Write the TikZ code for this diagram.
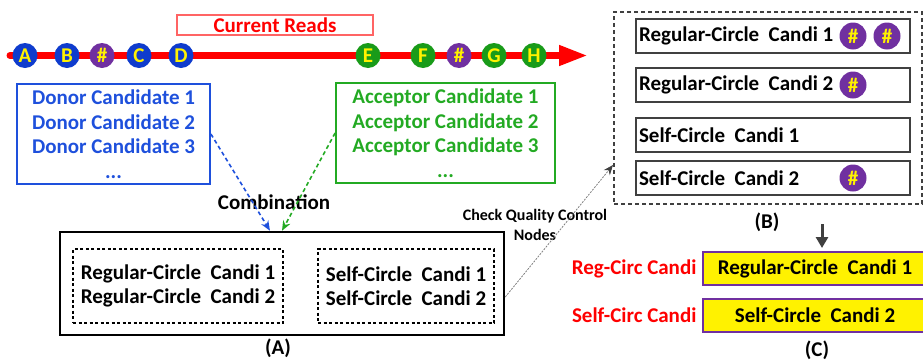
\documentclass[tikz,border=0pt]{standalone}
\usepackage{fontspec}
\setmainfont{Carlito}
\usetikzlibrary{arrows.meta,positioning}

\definecolor{rdblue}{RGB}{15,60,205}
\definecolor{rdgreen}{RGB}{25,155,25}
\definecolor{rdpurple}{RGB}{112,48,160}
\definecolor{txblue}{RGB}{30,80,220}
\definecolor{txgreen}{RGB}{35,170,35}
\definecolor{edgegray}{RGB}{64,64,64}
\definecolor{lightred}{RGB}{255,100,100}

\tikzset{
  read/.style = {circle, fill=#1, text=yellow, inner sep=0pt, minimum size=25pt},
  hashdot/.style = {circle, fill=rdpurple, text=yellow, inner sep=0pt, minimum size=27pt},
  candbox/.style = {draw=edgegray, line width=2pt, minimum height=34pt, text width=268pt, inner xsep=3pt, align=flush left},
  finalbox/.style = {draw=rdpurple, fill=yellow, line width=2pt, minimum width=224pt, minimum height=33pt},
  dashbox/.style = {draw, line width=1.8pt, dash pattern=on 3pt off 2.5pt, minimum height=74pt, align=flush left}
}

\begin{document}
\begin{tikzpicture}[x=1pt, y=-1pt, font=\fontsize{21}{24.5}\selectfont\bfseries]
  \useasboundingbox (0,0) rectangle (923,362);

  % current reads
  \node [draw=lightred, line width=1.2pt, minimum width=196pt, minimum height=20pt, inner sep=0pt, text=red] (reads) at (275,25) {Current Reads};
  \coordinate (rstart) at (10,55.5);
  \coordinate (rend) at (588,55.5);
  \draw [red, line width=7pt, line cap=round, -{Triangle[length=29pt, width=19pt]}] (rstart) -- (rend);
  \foreach \x/\l/\c [count=\i] in {25/A/rdblue, 67/B/rdblue, 102/\#/rdpurple, 139/C/rdblue, 181/D/rdblue,
                                   368/E/rdgreen, 423/F/rdgreen, 459/\#/rdpurple, 494/G/rdgreen, 534/H/rdgreen}
    \node [read=\c] (r\i) at (\x,55.5) {\l};

  % candidates
  \node [draw=txblue, line width=1.8pt, minimum width=193pt, minimum height=100pt, text=txblue, align=center] (donor) at (113.5,134) {Donor Candidate 1\\Donor Candidate 2\\Donor Candidate 3\\...};
  \node [draw=txgreen, line width=1.8pt, minimum width=219pt, minimum height=100pt, text=txgreen, align=center] (acceptor) at (445.5,133) {Acceptor Candidate 1\\Acceptor Candidate 2\\Acceptor Candidate 3\\...};
  \node (comb) at (274,202) {Combination};

  % (A)
  \node [draw, line width=2.5pt, minimum width=444pt, minimum height=103pt] (boxA) at (282,283.5) {};
  \node [dashbox, minimum width=210pt] (regA) at (178,286) {Regular-Circle\ \ Candi 1\\Regular-Circle\ \ Candi 2};
  \node [dashbox, minimum width=176pt] (selfA) at (406,286) {Self-Circle\ \ Candi 1\\Self-Circle\ \ Candi 2};
  \node (labA) at (278,348) {(A)};
  \draw [txblue, line width=1.6pt, dash pattern=on 4pt off 3pt, -{Stealth[length=10pt, width=8pt]}] (donor.east) -- ([xshift=-12pt]boxA.north);
  \draw [txgreen, line width=1.6pt, dash pattern=on 4pt off 3pt, -{Stealth[length=10pt, width=8pt]}] (acceptor.west) -- (boxA.north);

  % (B)
  \node [draw=edgegray, line width=2pt, dash pattern=on 4pt off 3pt, minimum width=308pt, minimum height=192pt] (boxB) at (768,108) {};
  \node [candbox] (b1) at (773,36) {Regular-Circle\ \ Candi 1};
  \node [candbox] (b2) at (773,85) {Regular-Circle\ \ Candi 2};
  \node [candbox] (b3) at (773,135) {Self-Circle\ \ Candi 1};
  \node [candbox] (b4) at (773,178) {Self-Circle\ \ Candi 2};
  \node [hashdot] (h1) at (853,36) {\#};
  \node [hashdot] (h2) at (887,36) {\#};
  \node [hashdot] (h3) at (853,85) {\#};
  \node [hashdot] (h4) at (853,178) {\#};
  \node (labB) at (767,222) {(B)};

  \node [font=\fontsize{16}{20}\selectfont\bfseries, align=center] (check) at (535,225) {Check Quality Control\\Nodes};
  \draw [gray, line width=0.8pt, dash pattern=on 2pt off 1.2pt, -{Stealth[length=10pt, width=8pt, edgegray]}] ([yshift=-13.5pt]boxA.east) -- ([yshift=-57pt]boxB.west);

  % (C)
  \node [finalbox] (c1) at (815,268.5) {Regular-Circle\ \ Candi 1};
  \node [finalbox] (c2) at (815,315) {Self-Circle\ \ Candi 2};
  \node [left=2pt of c1, text=red] (l1) {Reg-Circ Candi};
  \node [left=2pt of c2, text=red] (l2) {Self-Circ Candi};
  \node (labC) at (817,350) {(C)};
  \coordinate (gtop) at (822,224);
  \coordinate (gbot) at (822,248);
  \draw [edgegray, line width=3pt, -{Triangle[length=11pt, width=12pt]}] (gtop) -- (gbot);
\end{tikzpicture}
\end{document}
